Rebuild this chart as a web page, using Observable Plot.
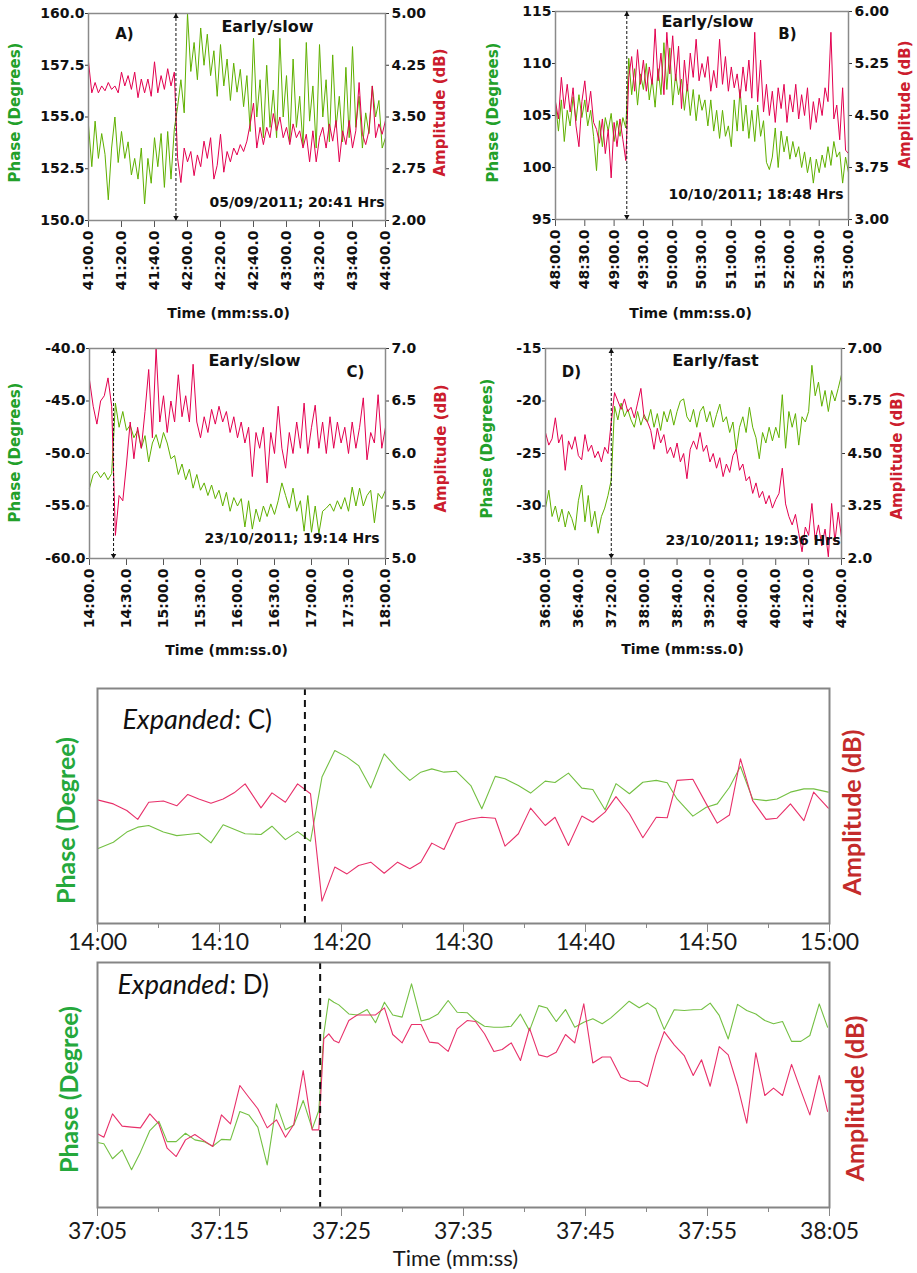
<!DOCTYPE html>
<html><head><meta charset="utf-8">
<script src="https://cdn.jsdelivr.net/npm/d3@7"></script>
<script src="https://cdn.jsdelivr.net/npm/@observablehq/plot@0.6"></script>
<style>
body{margin:0;background:#fff;}
#fig{position:relative;width:917px;height:1273px;overflow:hidden;background:#fff;}
#fig svg{position:absolute;}
</style></head><body><div id="fig"></div>
<script>
// ---------------- DATA ----------------
// Panel A (05/09/2011) : samples every 2 s from 41:00.0
const aStart = "41:00.0", aStep = 2;
const aPhase = [154.6,152.6,154.8,153.0,154.2,153.2,151.0,153.5,155.0,152.8,154.3,153.0,153.8,152.2,153.0,152.0,153.5,150.8,153.0,151.8,154.0,152.6,154.2,151.6,154.3,152.0,154.4,
155.5,156.8,155.2,160.0,157.2,158.6,156.8,159.3,157.5,159.0,157.0,158.2,156.0,158.5,156.5,157.8,155.8,157.6,156.2,157.3,155.5,157.0,154.3,158.8,155.0,156.8,154.0,157.5,154.5,156.3,
154.0,158.8,155.0,157.0,153.8,157.8,154.5,156.0,153.6,158.6,154.8,156.5,153.5,158.5,155.0,156.8,153.8,158.0,154.5,156.0,153.8,157.4,154.0,158.4,154.5,156.0,153.5,155.2,154.2,156.5,155.0,155.8,153.5,154.0];
const aAmp = [4.30,3.85,4.00,3.85,3.95,3.88,4.00,3.90,3.95,3.85,4.15,3.95,4.10,3.90,4.15,3.78,4.05,3.85,4.05,3.80,4.30,3.85,4.10,3.90,4.20,3.95,4.15,
2.90,2.55,3.05,2.85,3.00,2.65,2.95,2.78,3.15,2.90,3.20,2.60,2.80,3.25,2.70,3.00,2.85,3.05,2.95,3.10,3.00,3.15,3.40,3.70,3.05,3.35,3.10,3.35,3.20,3.55,
3.30,3.50,3.20,3.35,3.10,3.40,3.20,3.30,3.05,3.25,2.85,3.30,2.85,3.20,3.35,3.05,3.40,3.15,3.45,2.85,3.30,3.10,3.45,3.05,3.30,4.00,3.25,3.10,3.30,3.95,3.20,3.40,3.25,3.45];
const aTimeTicks = ["41:00.0","41:20.0","41:40.0","42:00.0","42:20.0","42:40.0","43:00.0","43:20.0","43:40.0","44:00.0"];
const aPhaseTicks = ["160.0","157.5","155.0","152.5","150.0"];
const aAmpTicks = ["5.00","4.25","3.50","2.75","2.00"];
const aOnset = "41:53.0";
const aTexts = {title: "Early/slow", tag: "A)", date: "05/09/2011; 20:41 Hrs"};

// Panel B (10/10/2011) : samples every 3 s from 48:00.0
const bStart = "48:00.0", bStep = 3;
const bPhase = [106.2,103.5,106.5,102.5,105.5,104.0,106.8,104.5,107.0,104.8,106.5,104.0,105.5,103.0,99.7,104.5,102.0,104.8,103.5,105.2,102.5,104.5,103.0,104.8,103.8,
110.5,107.0,109.5,106.0,109.0,107.5,110.0,106.5,108.5,105.8,109.5,107.0,112.0,107.5,111.5,106.0,109.0,107.0,108.5,105.5,108.0,105.0,107.5,104.5,107.0,105.5,106.5,104.0,106.5,103.5,
105.5,102.8,105.5,103.0,104.0,102.0,106.5,103.5,107.5,103.5,106.0,102.8,105.5,102.5,106.0,103.0,104.5,100.5,99.8,101.0,103.8,100.0,103.5,101.5,103.0,100.8,102.5,101.0,102.0,100.0,
101.5,99.5,101.0,98.5,100.8,99.5,101.2,100.0,102.0,100.2,102.5,101.0,101.5,98.5,101.0,99.5];
const bAmp = [4.70,4.45,5.05,4.60,4.95,4.55,4.90,4.35,4.05,4.70,5.00,4.55,4.85,4.40,4.30,4.10,4.45,3.95,4.30,3.60,4.40,4.05,4.45,4.15,3.85,
5.05,5.35,4.85,5.45,4.95,5.30,4.85,5.20,4.95,5.75,5.00,5.40,4.80,5.70,5.10,5.65,5.00,5.50,4.60,5.30,4.85,5.40,5.05,5.60,5.00,5.25,5.05,5.35,4.85,5.15,
4.90,5.60,4.95,5.35,4.85,5.20,4.90,5.10,4.75,5.20,4.85,5.30,4.75,5.70,4.70,5.30,4.55,4.95,4.50,4.85,4.40,4.90,4.60,4.95,4.40,4.80,4.55,4.95,4.45,4.80,
4.50,4.90,4.30,4.70,4.40,4.75,4.50,4.90,4.70,5.70,4.45,4.65,4.15,4.90,4.00,3.95];
const bTimeTicks = ["48:00.0","48:30.0","49:00.0","49:30.0","50:00.0","50:30.0","51:00.0","51:30.0","52:00.0","52:30.0","53:00.0"];
const bPhaseTicks = ["115","110","105","100","95"];
const bAmpTicks = ["6.00","5.25","4.50","3.75","3.00"];
const bOnset = "49:13.0";
const bTexts = {title: "Early/slow", tag: "B)", date: "10/10/2011; 18:48 Hrs"};

// Panel C (23/10/2011 19:14) : samples every 3 s from 14:00.0
const cStart = "14:00.0", cStep = 3;
const cPhase = [-53.3,-52.0,-51.7,-52.3,-51.8,-52.5,-51.9,
-45.2,-47.5,-46.0,-47.8,-47.3,-48.5,-47.8,-49.5,-48.3,-50.8,-49.0,-48.2,-49.5,-48.0,-49.0,-50.5,-50.2,-52.0,-51.0,-52.5,
-51.5,-53.3,-52.0,-53.5,-52.8,-54.0,-53.0,-54.3,-53.5,-55.0,-53.7,-55.5,-54.2,-55.0,-54.3,-57.0,-54.5,-57.2,-55.3,-56.5,
-55.0,-56.0,-54.8,-55.8,-54.5,-52.8,-54.0,-55.2,-53.3,-55.5,-54.5,-57.4,-54.0,-57.5,-55.0,-57.6,-55.5,-55.2,-54.8,-55.5,
-54.5,-55.3,-54.2,-55.5,-53.2,-55.0,-53.3,-55.0,-54.0,-53.5,-56.6,-53.8,-54.3,-53.5];
const cAmp = [6.70,6.45,6.28,6.50,6.55,6.72,6.45,
5.22,5.60,5.55,5.90,6.30,5.95,6.25,6.05,6.40,6.80,6.15,7.00,6.30,6.55,6.20,6.50,6.30,6.75,6.35,6.55,
6.30,6.85,6.30,6.15,6.35,6.20,6.42,6.28,6.45,6.30,6.40,6.20,6.35,6.15,6.30,6.10,6.25,5.78,6.20,6.05,
6.25,5.72,6.20,6.00,6.45,6.05,5.86,6.20,6.00,6.30,6.05,6.48,6.00,6.25,6.46,6.05,6.30,6.00,6.35,6.05,
6.30,6.10,6.25,6.00,6.30,6.05,6.25,6.53,5.94,6.20,6.10,6.56,6.05,6.25];
const cTimeTicks = ["14:00.0","14:30.0","15:00.0","15:30.0","16:00.0","16:30.0","17:00.0","17:30.0","18:00.0"];
const cPhaseTicks = ["-40.0","-45.0","-50.0","-55.0","-60.0"];
const cAmpTicks = ["7.0","6.5","6.0","5.5","5.0"];
const cOnset = "14:19.5";
const cTexts = {title: "Early/slow", tag: "C)", date: "23/10/2011; 19:14 Hrs"};

// Panel D (23/10/2011 19:36) : samples every 4 s from 36:00.0
const dStart = "36:00.0", dStep = 4;
const dPhase = [-30.2,-28.5,-31.0,-30.0,-31.5,-30.3,-32.0,-30.5,-31.2,-32.3,-29.5,-28.0,-31.5,-29.0,-32.0,-30.5,-32.6,-31.0,-30.2,-29.0,-27.5,
-20.5,-21.8,-20.2,-21.5,-20.8,-21.8,-22.5,-21.0,-22.3,-21.3,-22.0,-20.8,-22.5,-21.2,-22.8,-21.0,-22.0,-20.8,-22.3,-21.0,
-20.0,-19.8,-21.5,-22.0,-20.8,-22.5,-21.0,-20.5,-22.0,-21.0,-22.5,-21.3,-20.3,-22.0,-21.5,-23.0,-22.0,-24.7,-22.5,-21.5,
-23.0,-20.6,-22.5,-23.5,-25.5,-23.0,-24.0,-22.5,-23.8,-22.5,-23.5,-19.4,-24.5,-21.0,-22.5,-21.2,-24.2,-21.5,-22.0,-21.0,
-16.6,-19.5,-18.2,-20.5,-19.0,-21.0,-19.0,-20.0,-18.8,-17.5];
const dAmp = [5.00,4.70,4.85,5.35,4.75,4.95,4.10,4.80,4.60,4.90,4.45,4.35,4.95,4.55,4.70,4.40,4.55,4.30,4.65,4.50,5.25,
5.95,5.75,5.55,5.80,5.50,5.60,5.35,5.70,6.05,5.35,5.25,5.05,4.60,5.10,4.75,4.95,4.50,4.65,4.40,4.75,
4.30,4.50,3.90,4.60,4.80,4.60,5.00,4.55,4.70,4.30,4.50,4.15,4.40,3.95,4.25,4.05,4.45,4.60,4.10,4.25,
3.85,3.95,3.55,3.80,3.45,3.60,3.30,3.50,3.20,3.40,3.55,4.15,3.30,3.00,2.80,3.05,2.60,2.16,2.75,2.55,
3.31,2.45,2.80,2.30,2.70,2.04,3.31,2.40,3.10,2.50];
const dTimeTicks = ["36:00.0","36:40.0","37:20.0","38:00.0","38:40.0","39:20.0","40:00.0","40:40.0","41:20.0","42:00.0"];
const dPhaseTicks = ["-15","-20","-25","-30","-35"];
const dAmpTicks = ["7.00","5.75","4.50","3.25","2.0"];
const dOnset = "37:20.0";
const dTexts = {title: "Early/fast", tag: "D)", date: "23/10/2011; 19:36 Hrs"};

// Expanded C : relative levels (% of panel height), seconds after 14:00
const expCStart = "14:00";
const expCTime = [0,1.3,2.4,3.3,4.2,5.4,6.5,7.4,8.3,9.3,10.3,11.2,12.1,13.4,14.3,15.4,16.4,17.46,18.4,19.45,20.45,21.4,22.4,23.5,24.6,25.6,26.5,27.4,28.4,29.4,
30.6,31.5,32.6,33.4,34.5,35.5,36.7,37.5,38.6,39.7,40.6,41.6,42.5,43.6,44.7,45.8,46.7,47.5,48.8,49.9,50.8,51.8,52.7,53.7,54.8,55.7,56.8,57.9,58.7,59.9];
const expCPhase = [31.8,34.6,38.9,41.0,41.7,38.9,37.4,37.9,38.4,34.3,42.0,40.1,38.2,37.9,41.4,35.7,39.1,35.0,62.3,73.6,
70.8,67.2,57.7,72.2,65.8,60.9,64.4,65.8,64.4,64.8,58.7,48.8,62.6,61.6,58.7,55.5,60.6,60.0,64.0,57.6,
57.0,48.4,59.5,55.2,60.1,60.9,59.9,53.0,45.7,49.5,50.9,58.0,66.8,53.0,52.3,53.0,55.9,57.3,57.3,55.9];
const expCAmp = [52.6,50.9,48.1,44.3,51.6,52.1,50.1,54.9,53.0,51.2,53.0,55.6,59.4,49.2,55.6,51.6,59.4,55.2,9.5,24.0,
21.1,24.7,26.1,21.4,26.1,23.3,26.1,34.2,31.5,42.7,44.5,45.2,44.8,32.9,38.2,49.1,41.7,45.2,33.2,45.7,
43.1,47.4,54.0,46.7,36.5,45.2,45.0,60.9,61.4,50.9,42.7,46.2,70.1,52.3,44.3,44.8,50.9,43.8,55.9,49.1];
const expCTicks = ["14:00","14:10","14:20","14:30","14:40","14:50","15:00"];
const expCOnset = "14:17.0";
const expCTexts = {italic: "Expanded", rest: ": C)", phase: "Phase (Degree)", amp: "Amplitude (dB)"};

// Expanded D : relative levels (% of panel height), seconds after 37:05
const expDStart = "37:05";
const expDTime = [0,0.52,1.23,2.02,2.79,3.52,4.29,5.03,5.71,6.45,7.21,7.98,8.72,9.45,10.16,10.9,11.67,12.4,13.14,13.91,
14.67,15.41,16.09,16.86,17.6,18.14,18.55,18.96,19.37,19.78,20.6,21.29,22.1,22.79,23.52,24.2,24.97,25.74,26.53,27.21,
27.92,28.74,29.48,30.3,30.98,31.72,32.49,33.17,33.91,34.67,35.41,36.17,36.86,37.6,38.36,39.12,39.86,40.6,41.37,42.05,
42.9,43.58,44.4,45.08,45.76,46.45,47.27,48.09,48.83,49.51,50.22,50.96,51.7,52.46,53.22,53.96,54.7,55.41,56.15,56.89,
57.65,58.39,59.16,59.84];
const expDPhase = [26.5,26.0,19.9,23.5,15.4,22.6,31.4,35.2,26.9,26.9,30.3,27.6,26.9,25.0,27.8,27.6,39.2,37.8,32.8,17.4,
42.3,31.7,33.7,43.7,32.1,39.6,70.9,85.2,83.8,82.7,79.0,78.6,80.8,75.4,83.8,78.6,77.7,91.3,76.1,77.0,
79.0,84.5,79.7,79.5,76.3,74.0,73.6,73.6,74.0,78.9,72.2,82.4,81.4,75.9,80.8,73.6,75.6,77.0,75.0,77.3,
81.1,84.2,81.5,83.5,81.1,72.7,80.7,80.4,80.7,80.8,83.4,78.4,68.8,82.9,80.4,79.0,76.3,75.0,75.9,67.8,
67.8,70.2,83.1,73.6];
const expDAmp = [30.1,28.7,38.2,33.2,32.8,32.5,38.2,34.1,24.2,20.8,27.6,29.8,27.3,24.9,37.8,34.1,49.8,45.0,40.3,32.5,
35.8,28.7,33.9,55.9,31.7,31.7,68.8,70.9,68.2,67.2,76.3,78.6,78.6,78.6,81.5,70.6,67.2,74.7,74.7,67.5,
67.1,63.7,72.9,76.3,75.9,70.9,63.7,64.5,67.2,60.0,73.2,62.3,61.4,63.4,70.6,67.2,83.1,59.0,61.4,61.4,
53.2,51.6,51.4,49.4,62.0,71.8,66.4,62.0,53.9,60.3,49.5,65.7,62.3,49.8,34.4,63.1,45.7,48.7,45.7,58.4,
47.8,37.8,53.9,39.2];
const expDTicks = ["37:05","37:15","37:25","37:35","37:45","37:55","38:05"];
const expDOnset = "37:23.25";
const expDTexts = {italic: "Expanded", rest: ": D)", phase: "Phase (Degree)", amp: "Amplitude (dB)", time: "Time (mm:ss)"};

const topAxisTexts = {time: "Time (mm:ss.0)", phase: "Phase (Degrees)", amp: "Amplitude (dB)"};

// ---------------- RENDERING ----------------
const fig = document.getElementById("fig");
const toSec = s => { const [m, r] = s.split(":"); return +m * 60 + +r; };
const series = (start, step, vals) => vals.map((v, i) => ({t: toSec(start) + i * step, v}));
const col = {gLine: "#5fb000", rLine: "#e3004f", gText: "#22a02a", rText: "#cc1d2e",
             gExp: "#74c043", rExp: "#e8306a", gExpText: "#25a83c", rExpText: "#c42b2b"};

// text placed with its anchor at a page position (centre by default)
function at(L, px, py, textAnchor = "middle") {
  return {frameAnchor: "top-left", dx: px - (L.x + L.ml), dy: py - (L.y + L.mt), textAnchor, lineAnchor: "middle"};
}
function place(svg, L) { svg.style.left = L.x + "px"; svg.style.top = L.y + "px"; fig.appendChild(svg); }

function topPanel(P, L) {
  const xt = P.timeTicks.map(toSec);
  const pt = P.phaseTicks.map(Number), amt = P.ampTicks.map(Number);
  const xLab = new Map(xt.map((v, i) => [v, P.timeTicks[i]]));
  const pLab = new Map(pt.map((v, i) => [v, P.phaseTicks[i]]));
  const aLab = new Map(amt.map((v, i) => [v, P.ampTicks[i]]));
  const aDom = d3.extent(amt);
  const onset = toSec(P.onset);
  const base = {
    width: L.w, height: L.h, marginLeft: L.ml, marginRight: L.mr, marginTop: L.mt, marginBottom: L.mb,
    style: {background: "none", overflow: "visible", fontFamily: "'DejaVu Sans', Verdana, sans-serif",
            fontWeight: "bold", fontSize: "14px", color: "#111"},
    x: {domain: d3.extent(xt), axis: null}
  };
  const back = Plot.plot({...base, y: {domain: d3.extent(pt), axis: null}, marks: [
    Plot.axisX({ticks: xt, tickFormat: v => xLab.get(v), tickRotate: -90, tickSize: 7, tickPadding: 3,
                label: null, stroke: "#555", fill: "#111"}),
    Plot.axisY({anchor: "left", ticks: pt, tickFormat: v => pLab.get(v), tickSize: 3, tickPadding: 1,
                label: null, stroke: "#333", fill: "#111"}),
    Plot.line(series(P.start, P.step, P.phase), {x: "t", y: "v", stroke: col.gLine, strokeWidth: 1}),
    Plot.text([topAxisTexts.time], {...at(L, L.xl[0], L.xl[1]), fontSize: 14, fill: "#111"}),
    Plot.text([topAxisTexts.phase], {...at(L, L.pl[0], L.pl[1]), rotate: -90, fontSize: 15, fill: col.gText})
  ]});
  const front = Plot.plot({...base, y: {domain: aDom, axis: null}, marks: [
    Plot.axisY({anchor: "right", ticks: amt, tickFormat: v => aLab.get(v), tickSize: 3, tickPadding: 3,
                label: null, stroke: "#333", fill: "#111"}),
    Plot.line(series(P.start, P.step, P.amp), {x: "t", y: "v", stroke: col.rLine, strokeWidth: 1}),
    Plot.frame({stroke: "#8a8a8a", strokeWidth: 1.5}),
    Plot.ruleX([onset], {stroke: "#111", strokeWidth: 1, strokeDasharray: "3,2"}),
    Plot.dot([onset], {x: d => d, y: () => aDom[1], symbol: "triangle2", r: 2.6, fill: "#111", stroke: "none", dy: 3}),
    Plot.dot([onset], {x: d => d, y: () => aDom[0], symbol: "triangle2", r: 2.6, fill: "#111", stroke: "none", rotate: 180, dy: -3}),
    Plot.text([P.texts.title], {...at(L, L.ti[0], L.ti[1]), fontSize: 16, fill: "#111"}),
    Plot.text([P.texts.tag], {...at(L, L.tg[0], L.tg[1]), fontSize: 15, fill: "#111"}),
    Plot.text([P.texts.date], {...at(L, L.dt[0], L.dt[1], "end"), fontSize: 14, fill: "#111"}),
    Plot.text([topAxisTexts.amp], {...at(L, L.al[0], L.al[1]), rotate: -90, fontSize: 15, fill: col.rText})
  ]});
  place(back, L); place(front, L);
}

function expPanel(E, L) {
  const xt = E.ticks.map(toSec);
  const lab = new Map(xt.map((v, i) => [v, E.ticks[i]]));
  const minor = d3.pairs(xt).map(([a, b]) => (a + b) / 2);
  const t0 = toSec(E.start);
  const pts = vals => E.time.map((o, i) => ({t: t0 + o, v: vals[i]}));
  const svg = Plot.plot({
    width: L.w, height: L.h, marginLeft: L.ml, marginRight: L.mr, marginTop: L.mt, marginBottom: L.mb,
    style: {background: "none", overflow: "visible", fontFamily: "Lato, 'Open Sans', sans-serif", fontSize: "23px", color: "#1a1a1a"},
    x: {domain: d3.extent(xt), axis: null},
    y: {domain: [0, 100], axis: null},
    marks: [
      Plot.axisX({ticks: minor, tickFormat: () => "", tickSize: 5, stroke: "#888", label: null}),
      Plot.axisX({ticks: xt, tickFormat: v => lab.get(v), tickSize: 9, tickPadding: L.tp, stroke: "#888", fill: "#1a1a1a", label: null}),
      Plot.line(pts(E.phase), {x: "t", y: "v", stroke: col.gExp, strokeWidth: 1.1}),
      Plot.line(pts(E.amp), {x: "t", y: "v", stroke: col.rExp, strokeWidth: 1.1}),
      Plot.ruleX([toSec(E.onset)], {stroke: "#111", strokeWidth: 2, strokeDasharray: "7,5"}),
      Plot.frame({stroke: "#858585", strokeWidth: 2}),
      Plot.text([E.texts.italic], {...at(L, L.ex[0], L.ex[1], "end"), fontStyle: "italic", fontSize: 27, fill: "#111"}),
      Plot.text([E.texts.rest], {...at(L, L.ex[0] + 1, L.ex[1], "start"), fontSize: 26, fill: "#111"}),
      Plot.text([E.texts.phase], {...at(L, L.pl[0], L.pl[1]), rotate: -90, fontSize: 25, fontWeight: "bold", fill: col.gExpText}),
      Plot.text([E.texts.amp], {...at(L, L.al[0], L.al[1]), rotate: -90, fontSize: 25, fontWeight: "bold", fill: col.rExpText}),
      ...(E.texts.time ? [Plot.text([E.texts.time], {...at(L, L.tl[0], L.tl[1]), fontSize: 22, fill: "#1a1a1a"})] : [])
    ]
  });
  place(svg, L);
}

topPanel({start: aStart, step: aStep, phase: aPhase, amp: aAmp, timeTicks: aTimeTicks, phaseTicks: aPhaseTicks,
          ampTicks: aAmpTicks, onset: aOnset, texts: aTexts},
  {x: 0, y: 0, w: 460, h: 330, ml: 88, mr: 75, mt: 13, mb: 110,
   ti: [267, 26], tg: [124, 34], dt: [384, 202.5], xl: [228, 313], pl: [15, 112], al: [440, 112]});
topPanel({start: bStart, step: bStep, phase: bPhase, amp: bAmp, timeTicks: bTimeTicks, phaseTicks: bPhaseTicks,
          ampTicks: bAmpTicks, onset: bOnset, texts: bTexts},
  {x: 460, y: 0, w: 457, h: 330, ml: 95, mr: 69, mt: 11, mb: 111,
   ti: [707, 21.5], tg: [787, 34], dt: [843, 194.5], xl: [690, 313], pl: [493, 112], al: [905, 104]});
topPanel({start: cStart, step: cStep, phase: cPhase, amp: cAmp, timeTicks: cTimeTicks, phaseTicks: cPhaseTicks,
          ampTicks: cAmpTicks, onset: cOnset, texts: cTexts},
  {x: 0, y: 330, w: 460, h: 340, ml: 89, mr: 75, mt: 18, mb: 112,
   ti: [254, 360.5], tg: [355, 372], dt: [379, 538.5], xl: [226, 650], pl: [15, 452], al: [441, 448]});
topPanel({start: dStart, step: dStep, phase: dPhase, amp: dAmp, timeTicks: dTimeTicks, phaseTicks: dPhaseTicks,
          ampTicks: dAmpTicks, onset: dOnset, texts: dTexts},
  {x: 460, y: 330, w: 457, h: 340, ml: 85, mr: 76, mt: 18, mb: 112,
   ti: [715, 360.5], tg: [571, 372], dt: [840, 540.5], xl: [682, 649], pl: [487, 448], al: [897, 455]});

expPanel({start: expCStart, time: expCTime, phase: expCPhase, amp: expCAmp, ticks: expCTicks, onset: expCOnset, texts: expCTexts},
  {x: 0, y: 680, w: 917, h: 280, ml: 97, mr: 88, mt: 8, mb: 37, tp: 1,
   ex: [233, 720], pl: [66, 820], al: [852, 812]});
expPanel({start: expDStart, time: expDTime, phase: expDPhase, amp: expDAmp, ticks: expDTicks, onset: expDOnset, texts: expDTexts},
  {x: 0, y: 955, w: 917, h: 318, ml: 97, mr: 88, mt: 7, mb: 66, tp: 6,
   ex: [228, 985], pl: [69, 1089], al: [855, 1098], tl: [455, 1258]});
</script></body></html>
